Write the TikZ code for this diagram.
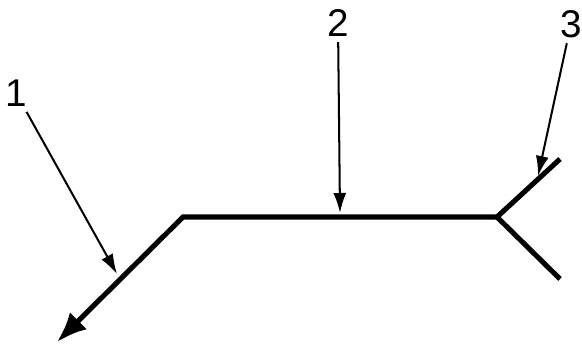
\documentclass[tikz,border=0pt]{standalone}
\usepackage{fontspec}
\setmainfont{Liberation Sans}
\usetikzlibrary{arrows.meta}

\begin{document}
\begin{tikzpicture}[
    x=0.02cm, y=-0.02cm,
    every node/.style={font=\fontsize{22}{25}\selectfont,inner sep=3pt},
    rod/.style={line width=2.9pt,line join=miter},
    leader/.style={-{Latex[length=4mm,width=2.6mm]},line width=1.15pt}
  ]
    \useasboundingbox (0,0) rectangle (582,348);

    % points on the rod
    \coordinate (tip) at (57,342);
    \coordinate (bend) at (183,217);
    \coordinate (fork) at (497,217);
    \coordinate (upper) at (560,159);
    \coordinate (lower) at (560,279);

    \draw[rod,-{Latex[length=6mm,width=4.8mm]}] (fork) -- (bend) -- (tip);
    \draw[rod] (upper) -- (fork) -- (lower);

    % labels and leaders
    \node (one) at (16,93) {1};
    \node (two) at (338,23) {2};
    \node (three) at (571,24) {3};

    \coordinate (p1) at (117,274);
    \coordinate (p2) at (340,213);
    \coordinate (p3) at (538,176);

    \draw[leader] (one) -- (p1);
    \draw[leader] (two) -- (p2);
    \draw[leader] (three) -- (p3);
\end{tikzpicture}
\end{document}
